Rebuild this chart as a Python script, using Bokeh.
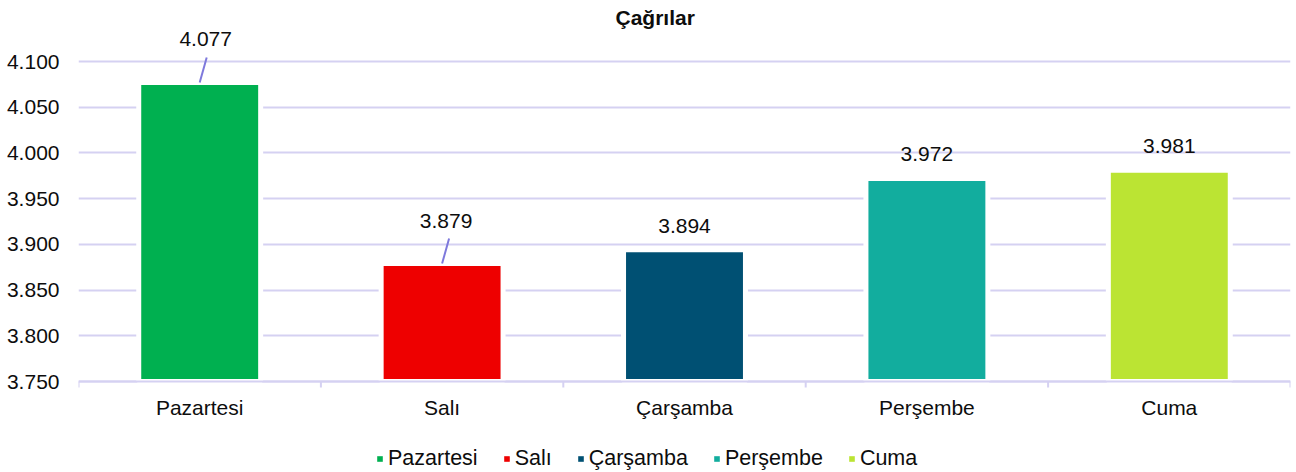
from bokeh.plotting import figure
from bokeh.models import (ColumnDataSource, Range1d, FixedTicker, LabelSet,
                          Legend, LegendItem, Title, Span)
from bokeh.core.properties import value
from bokeh.embed import file_html
from bokeh.resources import INLINE

# ---------------- data ----------------
title_text = "Çağrılar"
categories = ["Pazartesi", "Salı", "Çarşamba", "Perşembe", "Cuma"]
values = [4077, 3879, 3894, 3972, 3981]
value_labels = ["4.077", "3.879", "3.894", "3.972", "3.981"]
y_ticks = [3750, 3800, 3850, 3900, 3950, 4000, 4050, 4100]
y_tick_labels = ["3.750", "3.800", "3.850", "3.900", "3.950", "4.000", "4.050", "4.100"]
colors = ["#00B050", "#EE0000", "#005073", "#12AD9E", "#BBE433"]

# ---------------- style ----------------
FONT = "Liberation Sans"
TXT = "#0D0D0D"
GRID = "#D5D1F2"
LEADER = "#7E79DC"
label_dx = [6, 4, 0, 0, 0]                 # px, data label offsets
label_dy = [43.5, 42.5, 23.5, 24.5, 24.5]  # px

W, H = 1296, 472
TOP, LEFT, RIGHT = 30, 78, 6
AXIS_Y = 381                    # screen row of the category axis
PX_PER_UNIT = 320 / 350         # vertical scale
y_base = y_ticks[0]
y_lo = y_base - (H - AXIS_Y) / PX_PER_UNIT
y_hi = y_base + (AXIS_Y - TOP) / PX_PER_UNIT
frame_w = W - LEFT - RIGHT
xunits_per_px = len(categories) / frame_w

p = figure(width=W, height=H, output_backend="svg", toolbar_location=None,
           x_range=Range1d(0, len(categories)), y_range=Range1d(y_lo, y_hi),
           x_axis_location=None,
           min_border_top=TOP, min_border_bottom=0,
           min_border_left=LEFT, min_border_right=RIGHT)
p.outline_line_color = None
p.background_fill_color = "white"
p.border_fill_color = "white"

p.title = Title(text=title_text, align="left", offset=537, standoff=4,
                text_font=FONT, text_font_size="21px", text_font_style="bold",
                text_color=TXT)

xs = [i + 0.5 for i in range(len(categories))]
src = ColumnDataSource(dict(x=xs, top=values, color=colors, label=value_labels,
                            dx=label_dx, dy=label_dy, cat=categories,
                            base=[y_base] * len(categories)))

# bars
p.vbar(x="x", top="top", bottom=y_base, width=0.503, fill_color="color",
       line_color="white", line_width=5, source=src)

# category axis line and boundary ticks
p.add_layout(Span(location=y_base, dimension="width", line_color=GRID,
                  line_width=2))
bounds = list(range(len(categories) + 1))
p.segment(x0=bounds, y0=[y_base] * len(bounds), x1=bounds,
          y1=[y_base - 6 / PX_PER_UNIT] * len(bounds),
          line_color=GRID, line_width=2)
cat_labels = LabelSet(x="x", y="base", text="cat", y_offset=-26, source=src,
                      text_align="center", text_baseline="middle",
                      text_font=value(FONT), text_font_size=value("21px"),
                      text_color=TXT)
p.add_layout(cat_labels)

# leader lines for the labels moved away from their bars
lead_idx = [i for i in range(len(values)) if label_dy[i] > 30]
p.segment(x0=[xs[i] for i in lead_idx], y0=[values[i] for i in lead_idx],
          x1=[xs[i] + 7 * xunits_per_px for i in lead_idx],
          y1=[values[i] + 25 / PX_PER_UNIT for i in lead_idx],
          line_color=LEADER, line_width=2)

labels = LabelSet(x="x", y="top", text="label", x_offset="dx", y_offset="dy",
                  source=src, text_align="center", text_baseline="middle",
                  text_font=value(FONT), text_font_size=value("21px"),
                  text_color=TXT)
p.add_layout(labels)

# value axis
p.yaxis.ticker = FixedTicker(ticks=y_ticks)
p.yaxis.major_label_overrides = {v: s for v, s in zip(y_ticks, y_tick_labels)}
p.yaxis.axis_line_color = None
p.yaxis.major_tick_line_color = None
p.yaxis.minor_tick_line_color = None
p.yaxis.major_tick_out = 0
p.yaxis.major_tick_in = 0
p.yaxis.major_label_standoff = 19
p.yaxis.major_label_text_font = FONT
p.yaxis.major_label_text_font_size = "21px"
p.yaxis.major_label_text_color = TXT

p.xgrid.visible = False
p.ygrid.grid_line_color = GRID
p.ygrid.grid_line_width = 2

# legend (inside the frame, below the axis); zero-height bars act as swatches
items = []
for xi, c, col in zip(xs, categories, colors):
    r = p.vbar(x=[xi], top=[y_base], bottom=y_base, width=0.5,
               fill_color=col, line_color=None)
    items.append(LegendItem(label=c, renderers=[r]))
legend = Legend(items=items, orientation="horizontal", location=(298, 1),
                glyph_width=7, glyph_height=7, label_standoff=5, spacing=25,
                padding=0, margin=0, border_line_color=None,
                background_fill_alpha=0,
                label_text_font=FONT, label_text_font_size="21.5px",
                label_text_color=TXT)
p.add_layout(legend)

open("out.html", "w").write(file_html(p, INLINE))
